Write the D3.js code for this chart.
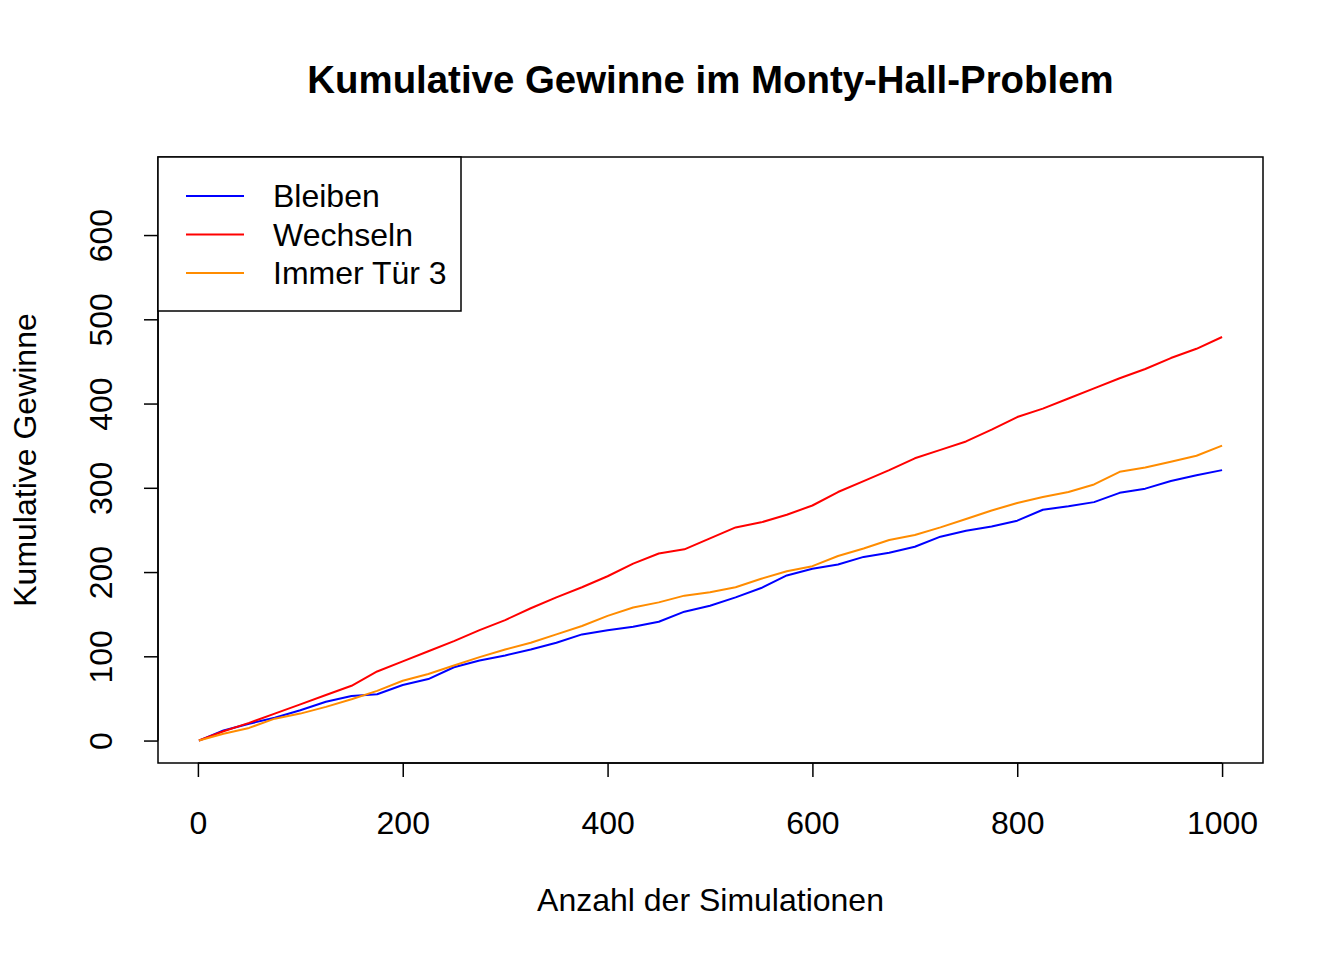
<!DOCTYPE html>
<html>
<head>
<meta charset="utf-8">
<script src="https://cdn.jsdelivr.net/npm/d3@7"></script>
<style>
  html, body { margin: 0; padding: 0; background: #fff; }
  svg { display: block; }
  text { font-family: "Liberation Sans", Arial, Helvetica, sans-serif; fill: #000; }
</style>
</head>
<body>
<svg id="chart" width="1344" height="960"></svg>
<script>
const simulations = [1, 25, 50, 75, 100, 125, 150, 175, 200, 225, 250, 275, 300, 325, 350, 375, 400,
  425, 450, 475, 500, 525, 550, 575, 600, 625, 650, 675, 700, 725, 750, 775, 800,
  825, 850, 875, 900, 925, 950, 975, 1000];
const bleiben = [0, 12, 20, 27, 36, 46, 53, 55, 66, 73, 87, 95, 101, 108, 116, 126, 131,
  135, 141, 153, 160, 170, 181, 196, 204, 209, 218, 223, 230, 242, 249, 254, 261,
  274, 278, 283, 294, 299, 308, 315, 321];
const wechseln = [0, 11, 21, 32, 43, 54, 65, 82, 94, 106, 118, 131, 143, 157, 170, 182, 195,
  210, 222, 227, 240, 253, 259, 268, 279, 295, 308, 321, 335, 345, 355, 369, 384,
  394, 406, 418, 430, 441, 454, 465, 479];
const immerTuer3 = [0, 8, 15, 26, 32, 40, 49, 59, 71, 79, 89, 99, 108, 116, 126, 136, 148,
  158, 164, 172, 176, 182, 192, 201, 207, 219, 228, 238, 244, 253, 263, 273, 282,
  289, 295, 304, 319, 324, 331, 338, 350];
const seriesNames = ["Bleiben", "Wechseln", "Immer Tür 3"];
const seriesColors = ["#0000FF", "#FF0000", "#FF8C00"];
const xTicks = [0, 200, 400, 600, 800, 1000];
const yTicks = [0, 100, 200, 300, 400, 500, 600];
const titleText = "Kumulative Gewinne im Monty-Hall-Problem";
const xLabel = "Anzahl der Simulationen";
const yLabel = "Kumulative Gewinne";

// ---- layout ----
const svg = d3.select("#chart");
const plot = { left: 158, right: 1263, top: 157, bottom: 763 };
const fs = "32px";

// R-style 4% extension of the data ranges
const xr = [1, 1000], yr = [0, 666];
const xe = (xr[1] - xr[0]) * 0.04, ye = (yr[1] - yr[0]) * 0.04;
const x = d3.scaleLinear().domain([xr[0] - xe, xr[1] + xe]).range([plot.left, plot.right]);
const y = d3.scaleLinear().domain([yr[0] - ye, yr[1] + ye]).range([plot.bottom, plot.top]);

// title
svg.append("text")
  .attr("x", (plot.left + plot.right) / 2).attr("y", 93)
  .attr("text-anchor", "middle")
  .style("font-size", "38.4px").style("font-weight", "bold")
  .text(titleText);

// series
const allSeries = [bleiben, wechseln, immerTuer3];
const line = d3.line().x((d, i) => x(simulations[i])).y(d => y(d));
allSeries.forEach((s, k) => {
  svg.append("path")
    .datum(s)
    .attr("fill", "none")
    .attr("stroke", seriesColors[k])
    .attr("stroke-width", 2)
    .attr("stroke-linejoin", "round")
    .attr("d", line);
});

// box
svg.append("rect")
  .attr("x", plot.left).attr("y", plot.top)
  .attr("width", plot.right - plot.left).attr("height", plot.bottom - plot.top)
  .attr("fill", "none").attr("stroke", "#000").attr("stroke-width", 1.5);

// x axis
const xAxis = d3.axisBottom(x).tickValues(xTicks).tickSize(14).tickPadding(34).tickFormat(d3.format("d"));
const gx = svg.append("g").attr("transform", `translate(0,${plot.bottom})`).call(xAxis);
gx.select(".domain").attr("d", `M${x(xTicks[0])},0H${x(xTicks[xTicks.length - 1])}`)
  .attr("stroke", "#000").attr("stroke-width", 1.5);
gx.selectAll(".tick line").attr("stroke", "#000").attr("stroke-width", 1.5);
gx.selectAll(".tick text").style("font-size", fs).attr("font-family", null).attr("fill", "#000");

// y axis (labels rotated like R's las = 0)
const yAxis = d3.axisLeft(y).tickValues(yTicks).tickSize(14).tickFormat(d3.format("d"));
const gy = svg.append("g").attr("transform", `translate(${plot.left},0)`).call(yAxis);
gy.select(".domain").attr("d", `M0,${y(yTicks[0])}V${y(yTicks[yTicks.length - 1])}`)
  .attr("stroke", "#000").attr("stroke-width", 1.5);
gy.selectAll(".tick line").attr("stroke", "#000").attr("stroke-width", 1.5);
gy.selectAll(".tick text")
  .attr("x", null).attr("dy", null)
  .attr("transform", "translate(-46,0) rotate(-90)")
  .attr("text-anchor", "middle")
  .style("font-size", fs).attr("font-family", null).attr("fill", "#000");

// axis titles
svg.append("text")
  .attr("x", (plot.left + plot.right) / 2).attr("y", 911)
  .attr("text-anchor", "middle").style("font-size", fs)
  .text(xLabel);
svg.append("text")
  .attr("transform", `translate(36,${(plot.top + plot.bottom) / 2}) rotate(-90)`)
  .attr("text-anchor", "middle").style("font-size", fs)
  .text(yLabel);

// legend
const lg = svg.append("g");
lg.append("rect")
  .attr("x", plot.left).attr("y", plot.top)
  .attr("width", 303).attr("height", 154)
  .attr("fill", "#fff").attr("stroke", "#000").attr("stroke-width", 1.5);
seriesNames.forEach((name, k) => {
  const yy = 196 + k * 38.5;
  lg.append("line").attr("x1", 186).attr("x2", 244).attr("y1", yy).attr("y2", yy)
    .attr("stroke", seriesColors[k]).attr("stroke-width", 2);
  lg.append("text").attr("x", 273).attr("y", yy).attr("dy", "0.35em")
    .style("font-size", fs).text(name);
});
</script>
</body>
</html>
